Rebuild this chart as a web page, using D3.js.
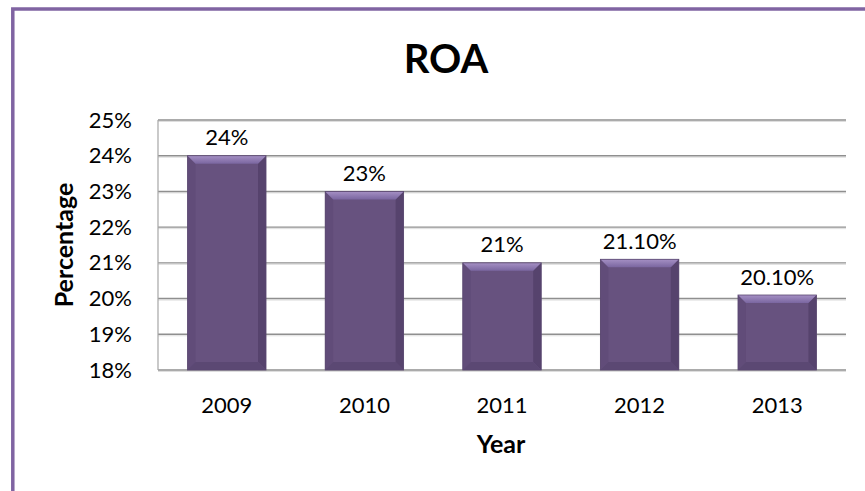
<!DOCTYPE html>
<html>
<head>
<meta charset="utf-8">
<script src="https://cdn.jsdelivr.net/npm/d3@7/dist/d3.min.js"></script>
<style>
  html, body { margin: 0; padding: 0; background: #ffffff; }
  svg { display: block; }
  text { font-family: Lato, "Open Sans", sans-serif; fill: #000; }
</style>
</head>
<body>
<svg id="chart" width="865" height="491"></svg>
<script>
// ROA by year
const years = ["2009", "2010", "2011", "2012", "2013"];
const roaValues = [0.24, 0.23, 0.21, 0.211, 0.201];
const roaLabels = ["24%", "23%", "21%", "21.10%", "20.10%"];
const yTicks = [0.18, 0.19, 0.20, 0.21, 0.22, 0.23, 0.24, 0.25];

const svg = d3.select("#chart");
const plot = { left: 158, right: 846, top: 120, bottom: 370 };

// chart frame (continues past the visible page)
svg.append("rect")
  .attr("x", 12.8).attr("y", 9).attr("width", 1000).attr("height", 700)
  .attr("fill", "none").attr("stroke", "#8064a2").attr("stroke-width", 3.5);

const x = d3.scaleBand().domain(years).range([plot.left, plot.right]).paddingInner(0.43).paddingOuter(0.215);
const y = d3.scaleLinear().domain([0.18, 0.25]).range([plot.bottom, plot.top]);

// gradient for the lit top facet of each bar
const defs = svg.append("defs");
const topGrad = defs.append("linearGradient").attr("id", "bevelTop").attr("x1", 0).attr("y1", 0).attr("x2", 0).attr("y2", 1);
topGrad.append("stop").attr("offset", "0%").attr("stop-color", "#a590c4");
topGrad.append("stop").attr("offset", "100%").attr("stop-color", "#7a66a0");

// gridlines with soft shadow
const grid = svg.append("g");
grid.selectAll("line.shadow").data(yTicks).join("line")
  .attr("class", "shadow")
  .attr("x1", plot.left).attr("x2", plot.right)
  .attr("y1", d => y(d) + 1.5).attr("y2", d => y(d) + 1.5)
  .attr("stroke", "#dedede").attr("stroke-width", 1);
grid.selectAll("line.main").data(yTicks).join("line")
  .attr("class", "main")
  .attr("x1", plot.left).attr("x2", plot.right)
  .attr("y1", d => y(d)).attr("y2", d => y(d))
  .attr("stroke", "#8f8f8f").attr("stroke-width", 1.4);
// left edge of plot area
svg.append("line")
  .attr("x1", plot.left).attr("x2", plot.left)
  .attr("y1", plot.top).attr("y2", plot.bottom)
  .attr("stroke", "#a6a6a6").attr("stroke-width", 1.2);

// y axis
const yAxis = d3.axisLeft(y).tickValues(yTicks).tickFormat(d3.format(".0%")).tickSize(0).tickPadding(26);
const yg = svg.append("g").attr("transform", `translate(${plot.left},0)`).call(yAxis);
yg.select(".domain").remove();
yg.selectAll("text").attr("font-size", 22).attr("font-family", "Lato, sans-serif").attr("fill", "#000");

// x axis
const xAxis = d3.axisBottom(x).tickSize(0).tickPadding(0);
const xg = svg.append("g").attr("transform", `translate(0,${plot.bottom})`).call(xAxis);
xg.select(".domain").remove();
xg.selectAll("text").attr("font-size", 22).attr("font-family", "Lato, sans-serif").attr("fill", "#000")
  .attr("dy", null).attr("y", 43);

// bars with bevel
const bw = x.bandwidth();
const b = 8;
const bars = svg.append("g").selectAll("g").data(years.map((yr, i) => ({ yr, v: roaValues[i], label: roaLabels[i] }))).join("g");

bars.each(function(d) {
  const g = d3.select(this);
  const x0 = x(d.yr), x1 = x0 + bw, y0 = y(d.v), y1 = y(0.18);
  g.append("rect").attr("x", x0).attr("y", y0).attr("width", bw).attr("height", y1 - y0).attr("fill", "#67527f");
  // left facet
  g.append("polygon").attr("points", [[x0, y0], [x0 + b, y0 + b], [x0 + b, y1 - b], [x0, y1]].join(" "))
    .attr("fill", "#614c79");
  // right facet
  g.append("polygon").attr("points", [[x1, y0], [x1 - b, y0 + b], [x1 - b, y1 - b], [x1, y1]].join(" "))
    .attr("fill", "#56436d");
  // bottom facet
  g.append("polygon").attr("points", [[x0, y1], [x0 + b, y1 - b], [x1 - b, y1 - b], [x1, y1]].join(" "))
    .attr("fill", "#5b4873");
  // top facet
  g.append("polygon").attr("points", [[x0, y0], [x1, y0], [x1 - b, y0 + b], [x0 + b, y0 + b]].join(" "))
    .attr("fill", "url(#bevelTop)");
  // outline
  g.append("rect").attr("x", x0).attr("y", y0).attr("width", bw).attr("height", y1 - y0)
    .attr("fill", "none").attr("stroke", "#5a4870").attr("stroke-width", 0.8);
  // value label
  g.append("text").attr("x", x0 + bw / 2).attr("y", y0 - 10.5)
    .attr("text-anchor", "middle").attr("font-size", 22).text(d.label);
});

// title
svg.append("text").attr("x", 446).attr("y", 73).attr("text-anchor", "middle")
  .attr("font-size", 40).attr("font-weight", "bold").text("ROA");

// axis titles
svg.append("text").attr("transform", "translate(73,245) rotate(-90)").attr("text-anchor", "middle")
  .attr("font-size", 25).attr("font-weight", "bold").text("Percentage");
svg.append("text").attr("x", 501).attr("y", 453).attr("text-anchor", "middle")
  .attr("font-size", 25).attr("font-weight", "bold").text("Year");
</script>
</body>
</html>
